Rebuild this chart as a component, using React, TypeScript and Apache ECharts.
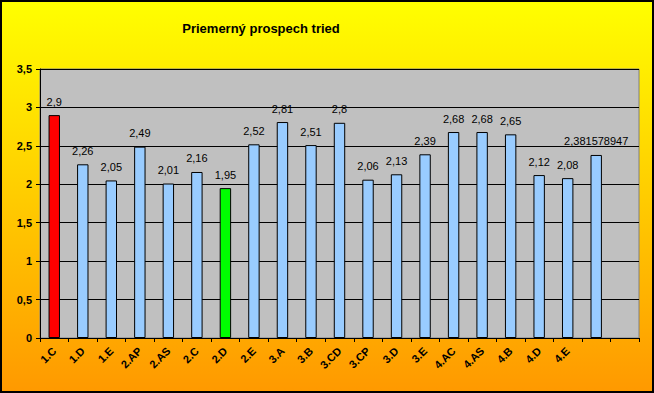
import React, { useEffect, useRef } from "react";
import * as echarts from "echarts";

const categories = ["1.C", "1.D", "1.E", "2.AP", "2.AS", "2.C", "2.D", "2.E", "3.A", "3.B", "3.CD", "3.CP", "3.D", "3.E", "4.AC", "4.AS", "4.B", "4.D", "4.E", "", ""];
const values: (number | null)[] = [2.9, 2.26, 2.05, 2.49, 2.01, 2.16, 1.95, 2.52, 2.81, 2.51, 2.8, 2.06, 2.13, 2.39, 2.68, 2.68, 2.65, 2.12, 2.08, 2.381578947, null];
const barColors: Record<number, string> = { 0: "#FF0000", 6: "#00FF00" };
const yTicks = { min: 0, max: 3.5, interval: 0.5 };
const title = "Priemerný prospech tried";

const fmt = (v: number) => String(v).replace(".", ",");

export default function App() {
  const ref = useRef<HTMLDivElement>(null);
  useEffect(() => {
    document.body.style.margin = "0";
    const chart = echarts.init(ref.current!, null, { renderer: "svg" });
    const font = "Arial, 'Liberation Sans', sans-serif";
    chart.setOption({
      animation: false,
      graphic: [
        {
          type: "rect",
          z: -10,
          shape: { x: 1, y: 1, width: 652, height: 391 },
          style: {
            fill: new echarts.graphic.LinearGradient(0, 0, 0, 1, [
              { offset: 0, color: "#FFFF00" },
              { offset: 1, color: "#FF9900" },
            ]),
            stroke: "#000000",
            lineWidth: 2,
          },
        },
        {
          type: "text",
          x: 261,
          y: 28,
          style: {
            text: title,
            font: `bold 13px ${font}`,
            fill: "#000",
            textAlign: "center",
            textVerticalAlign: "middle",
          },
        },
      ],
      grid: {
        left: 40,
        right: 15,
        top: 69,
        bottom: 55,
        show: true,
        backgroundColor: "#C0C0C0",
        borderColor: "#808080",
        borderWidth: 1,
        containLabel: false,
      },
      xAxis: {
        type: "category",
        data: categories,
        boundaryGap: true,
        axisLine: { show: true, lineStyle: { color: "#000", width: 1 } },
        axisTick: { show: true, length: 4, alignWithLabel: false, interval: 0, lineStyle: { color: "#000" } },
        axisLabel: {
          interval: 0,
          rotate: 45,
          margin: 11,
          color: "#000",
          fontWeight: "bold",
          fontSize: 11,
          fontFamily: font,
        },
      },
      yAxis: {
        type: "value",
        min: yTicks.min,
        max: yTicks.max,
        interval: yTicks.interval,
        axisLine: { show: true, lineStyle: { color: "#000", width: 1 } },
        axisTick: { show: true, length: 4, lineStyle: { color: "#000" } },
        splitLine: { show: true, lineStyle: { color: "#000", width: 1 } },
        axisLabel: {
          formatter: (v: number) => fmt(v),
          color: "#000",
          fontWeight: "bold",
          fontSize: 11,
          fontFamily: font,
          margin: 8,
        },
      },
      series: [
        {
          type: "bar",
          data: values.map((v, i) => ({
            value: v,
            itemStyle: { color: barColors[i] ?? "#99CCFF", borderColor: "#000", borderWidth: 1 },
          })),
          barWidth: "40%",
          label: {
            show: true,
            position: "top",
            distance: 8,
            formatter: (p: any) => (p.value == null ? "" : fmt(p.value)),
            color: "#000",
            fontSize: 11,
            fontFamily: font,
          },
        },
      ],
    });
    return () => chart.dispose();
  }, []);
  return <div ref={ref} style={{ width: 654, height: 393 }} />;
}
